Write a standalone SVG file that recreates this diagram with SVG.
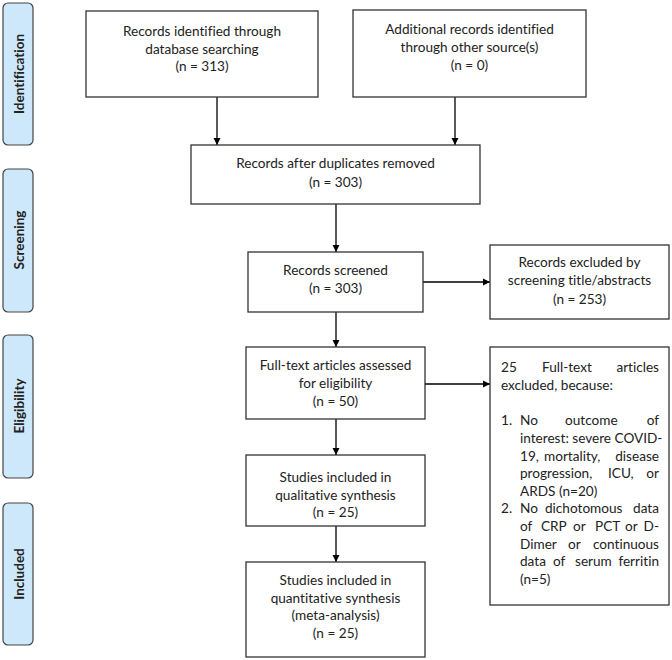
<svg xmlns="http://www.w3.org/2000/svg" width="672" height="660" viewBox="0 0 672 660">
<defs>
<marker id="ah" markerWidth="8" markerHeight="8" refX="7" refY="4" orient="auto" markerUnits="userSpaceOnUse">
<path d="M0,0.5 L7,4 L0,7.5 Z" fill="#000"/>
</marker>
<style>
text{font-family:Lato,"Open Sans",sans-serif;font-size:13.6px;fill:#222;font-variant-ligatures:none}
.box{fill:#fff;stroke:#333;stroke-width:1.3}
.side{fill:#cde8fb;stroke:#444;stroke-width:1.2}
.t{text-anchor:middle}
.e{text-anchor:end}
.s{font-size:13.5px;font-weight:bold;text-anchor:middle}
.c{fill:none;stroke:#000;stroke-width:1.3;marker-end:url(#ah)}
</style>
</defs>
<g id="side-identification"><rect class="side" x="3" y="3" width="30" height="142" rx="5"/><text class="s" transform="translate(23.5,74) rotate(-90)">Identification</text></g>
<g id="side-screening"><rect class="side" x="3" y="169" width="30" height="143" rx="5"/><text class="s" transform="translate(23.5,240) rotate(-90)">Screening</text></g>
<g id="side-eligibility"><rect class="side" x="3" y="335" width="30" height="143" rx="5"/><text class="s" transform="translate(23.5,406) rotate(-90)">Eligibility</text></g>
<g id="side-included"><rect class="side" x="3" y="503" width="30" height="142" rx="5"/><text class="s" transform="translate(23.5,574) rotate(-90)">Included</text></g>

<g id="connectors">
<line class="c" x1="217" y1="97" x2="217" y2="145"/>
<line class="c" x1="455" y1="97" x2="455" y2="145"/>
<line class="c" x1="336" y1="204" x2="336" y2="252"/>
<line class="c" x1="423" y1="282" x2="490" y2="282"/>
<line class="c" x1="336" y1="312" x2="336" y2="347"/>
<line class="c" x1="425" y1="384" x2="490" y2="384"/>
<line class="c" x1="336" y1="419" x2="336" y2="455"/>
<line class="c" x1="336" y1="526" x2="336" y2="562"/>
</g>

<g id="n1"><rect class="box" x="86" y="11" width="232" height="86"/>
<text class="t" x="202" y="36">Records identified through</text>
<text class="t" x="202" y="54">database searching</text>
<text class="t" x="202" y="71">(n = 313)</text></g>

<g id="n2"><rect class="box" x="353" y="10" width="233" height="87"/>
<text class="t" x="469.5" y="34">Additional records identified</text>
<text class="t" x="469.5" y="52">through other source(s)</text>
<text class="t" x="469.5" y="70">(n = 0)</text></g>

<g id="n3"><rect class="box" x="191" y="145" width="289" height="59"/>
<text class="t" x="335.5" y="168">Records after duplicates removed</text>
<text class="t" x="335.5" y="187">(n = 303)</text></g>

<g id="n4"><rect class="box" x="248" y="252" width="175" height="60"/>
<text class="t" x="335.5" y="275">Records screened</text>
<text class="t" x="335.5" y="293">(n = 303)</text></g>

<g id="n5"><rect class="box" x="490" y="245" width="179" height="74"/>
<text class="t" x="579.5" y="267">Records excluded by</text>
<text class="t" x="579.5" y="285">screening title/abstracts</text>
<text class="t" x="579.5" y="304">(n = 253)</text></g>

<g id="n6"><rect class="box" x="246" y="347" width="179" height="72"/>
<text class="t" x="335.5" y="370">Full-text articles assessed</text>
<text class="t" x="335.5" y="388">for eligibility</text>
<text class="t" x="335.5" y="406">(n = 50)</text></g>

<g id="n7"><rect class="box" x="490" y="347" width="179" height="258"/>
<text x="501" y="372">25</text><text x="542" y="372">Full-text</text><text class="e" x="659" y="372">articles</text>
<text x="501" y="390">excluded, because:</text>
<text x="501" y="425">1.</text><text x="520" y="425">No</text><text x="565" y="425">outcome</text><text class="e" x="659" y="425">of</text>
<text x="520" y="443">interest: severe COVID-</text>
<text x="520" y="460.5">19,</text><text x="544" y="460.5">mortality,</text><text class="e" x="659" y="460.5">disease</text>
<text x="520" y="478">progression,</text><text x="608" y="478">ICU,</text><text class="e" x="659" y="478">or</text>
<text x="520" y="495.5">ARDS (n=20)</text>
<text x="501" y="513">2.</text><text x="520" y="513">No</text><text x="545" y="513">dichotomous</text><text class="e" x="659" y="513">data</text>
<text x="520" y="531">of</text><text x="541" y="531">CRP</text><text x="573" y="531">or</text><text x="595" y="531">PCT</text><text x="625" y="531">or</text><text class="e" x="659" y="531">D-</text>
<text x="520" y="548.5">Dimer</text><text x="568" y="548.5">or</text><text class="e" x="659" y="548.5">continuous</text>
<text x="520" y="566">data</text><text x="553" y="566">of</text><text x="575" y="566">serum</text><text class="e" x="659" y="566">ferritin</text>
<text x="520" y="583.5">(n=5)</text></g>

<g id="n8"><rect class="box" x="246" y="455" width="179" height="71"/>
<text class="t" x="335.5" y="482">Studies included in</text>
<text class="t" x="335.5" y="500">qualitative synthesis</text>
<text class="t" x="335.5" y="517">(n = 25)</text></g>

<g id="n9"><rect class="box" x="246" y="562" width="179" height="95"/>
<text class="t" x="335.5" y="585">Studies included in</text>
<text class="t" x="335.5" y="603">quantitative synthesis</text>
<text class="t" x="335.5" y="620">(meta-analysis)</text>
<text class="t" x="335.5" y="638">(n = 25)</text></g>
</svg>
